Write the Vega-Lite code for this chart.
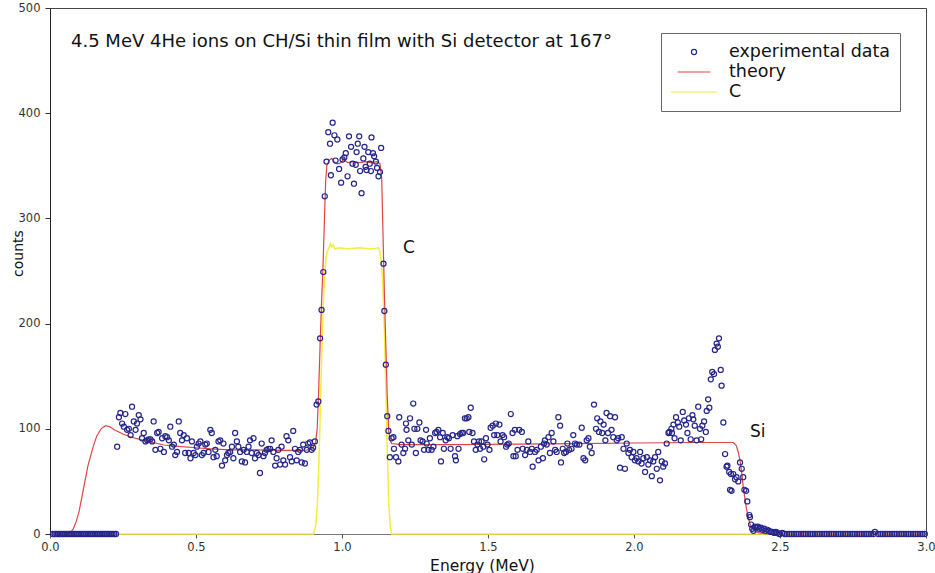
{
  "$schema": "https://vega.github.io/schema/vega-lite/v6.json",
  "width": 876,
  "height": 526,
  "autosize": {"type": "none"},
  "padding": {"left": 50, "top": 8, "right": 9, "bottom": 39},
  "background": "white",
  "title": {
    "text": "4.5 MeV 4He ions on CH/Si thin film with Si detector at 167°",
    "anchor": "start",
    "frame": "group",
    "orient": "top",
    "offset": 0,
    "dx": 21,
    "dy": 63,
    "baseline": "alphabetic",
    "font": "DejaVu Sans",
    "fontSize": 18,
    "fontWeight": "normal",
    "color": "#111"
  },
  "config": {
    "view": {"stroke": "#444", "strokeWidth": 1},
    "font": "DejaVu Sans"
  },
  "datasets": {
    "pts": [
      {"e":0.01,"c":0},{"e":0.016,"c":0},{"e":0.022,"c":0},{"e":0.028,"c":0},{"e":0.034,"c":0},{"e":0.04,"c":0},{"e":0.046,"c":0},{"e":0.052,"c":0},{"e":0.058,"c":0},{"e":0.064,"c":0},{"e":0.07,"c":0},{"e":0.076,"c":0},{"e":0.082,"c":0},{"e":0.088,"c":0},{"e":0.094,"c":0},{"e":0.1,"c":0},{"e":0.106,"c":0},{"e":0.112,"c":0},{"e":0.118,"c":0},{"e":0.124,"c":0},{"e":0.13,"c":0},{"e":0.136,"c":0},{"e":0.142,"c":0},{"e":0.148,"c":0},{"e":0.154,"c":0},{"e":0.16,"c":0},{"e":0.166,"c":0},{"e":0.172,"c":0},{"e":0.178,"c":0},{"e":0.184,"c":0},{"e":0.19,"c":0},{"e":0.196,"c":0},{"e":0.202,"c":0},{"e":0.208,"c":0},{"e":0.214,"c":0},{"e":0.22,"c":0},{"e":0.226,"c":0},
      {"e":0.230,"c":83},{"e":0.236,"c":111},{"e":0.241,"c":115},{"e":0.247,"c":105},{"e":0.253,"c":102},{"e":0.258,"c":114},{"e":0.264,"c":99},{"e":0.270,"c":100},{"e":0.276,"c":94},{"e":0.281,"c":121},{"e":0.287,"c":107},{"e":0.293,"c":99},{"e":0.298,"c":105},{"e":0.304,"c":113},{"e":0.310,"c":109},{"e":0.315,"c":91},{"e":0.321,"c":96},{"e":0.327,"c":88},{"e":0.333,"c":89},{"e":0.338,"c":90},{"e":0.344,"c":90},{"e":0.350,"c":88},{"e":0.355,"c":107},{"e":0.361,"c":80},{"e":0.367,"c":96},{"e":0.372,"c":97},{"e":0.378,"c":81},{"e":0.384,"c":91},{"e":0.390,"c":78},{"e":0.395,"c":93},{"e":0.401,"c":92},{"e":0.407,"c":89},{"e":0.412,"c":102},{"e":0.418,"c":83},{"e":0.424,"c":85},{"e":0.429,"c":75},{"e":0.435,"c":78},{"e":0.441,"c":107},{"e":0.446,"c":96},{"e":0.452,"c":89},{"e":0.458,"c":94},{"e":0.463,"c":77},{"e":0.469,"c":91},{"e":0.475,"c":77},{"e":0.481,"c":72},{"e":0.486,"c":88},{"e":0.492,"c":77},{"e":0.498,"c":75},{"e":0.503,"c":83},{"e":0.509,"c":86},{"e":0.515,"c":88},{"e":0.520,"c":75},{"e":0.526,"c":77},{"e":0.532,"c":85},{"e":0.537,"c":86},{"e":0.543,"c":78},{"e":0.549,"c":99},{"e":0.554,"c":96},{"e":0.560,"c":73},{"e":0.566,"c":80},{"e":0.571,"c":74},{"e":0.577,"c":88},{"e":0.583,"c":89},{"e":0.589,"c":65},{"e":0.594,"c":86},{"e":0.600,"c":70},{"e":0.606,"c":75},{"e":0.611,"c":77},{"e":0.617,"c":78},{"e":0.623,"c":83},{"e":0.628,"c":72},{"e":0.634,"c":96},{"e":0.640,"c":88},{"e":0.645,"c":83},{"e":0.651,"c":78},{"e":0.657,"c":69},{"e":0.663,"c":80},{"e":0.668,"c":68},{"e":0.674,"c":78},{"e":0.680,"c":83},{"e":0.685,"c":89},{"e":0.691,"c":77},{"e":0.697,"c":91},{"e":0.702,"c":72},{"e":0.708,"c":77},{"e":0.714,"c":75},{"e":0.719,"c":58},{"e":0.725,"c":86},{"e":0.731,"c":74},{"e":0.736,"c":77},{"e":0.742,"c":80},{"e":0.748,"c":81},{"e":0.754,"c":81},{"e":0.759,"c":89},{"e":0.765,"c":78},{"e":0.771,"c":65},{"e":0.776,"c":72},{"e":0.782,"c":80},{"e":0.788,"c":66},{"e":0.793,"c":83},{"e":0.799,"c":70},{"e":0.805,"c":66},{"e":0.810,"c":93},{"e":0.816,"c":89},{"e":0.822,"c":73},{"e":0.828,"c":69},{"e":0.833,"c":98},{"e":0.839,"c":81},{"e":0.845,"c":70},{"e":0.850,"c":78},{"e":0.856,"c":80},{"e":0.862,"c":68},{"e":0.867,"c":85},{"e":0.873,"c":67},{"e":0.879,"c":80},{"e":0.884,"c":86},{"e":0.890,"c":87},{"e":0.896,"c":80},{"e":0.901,"c":82},{"e":0.907,"c":88},
      {"e":0.913,"c":123},{"e":0.919,"c":126},{"e":0.925,"c":186},{"e":0.930,"c":213},{"e":0.936,"c":249},{"e":0.941,"c":321},
      {"e":0.947,"c":354},{"e":0.953,"c":382},{"e":0.959,"c":371},{"e":0.962,"c":341},{"e":0.968,"c":391},{"e":0.974,"c":379},{"e":0.978,"c":355},{"e":0.984,"c":375},{"e":0.990,"c":347},{"e":0.997,"c":334},{"e":1.002,"c":356},{"e":1.008,"c":358},{"e":1.013,"c":362},{"e":1.019,"c":340},{"e":1.024,"c":378},{"e":1.031,"c":368},{"e":1.036,"c":352},{"e":1.041,"c":333},{"e":1.047,"c":351},{"e":1.050,"c":363},{"e":1.054,"c":371},{"e":1.059,"c":378},{"e":1.062,"c":345},{"e":1.067,"c":324},{"e":1.073,"c":357},{"e":1.077,"c":368},{"e":1.081,"c":349},{"e":1.084,"c":346},{"e":1.090,"c":363},{"e":1.095,"c":352},{"e":1.099,"c":345},{"e":1.101,"c":377},{"e":1.106,"c":362},{"e":1.110,"c":359},{"e":1.116,"c":354},{"e":1.120,"c":348},{"e":1.125,"c":340},{"e":1.130,"c":344},{"e":1.134,"c":367},
      {"e":1.142,"c":257},{"e":1.145,"c":212},{"e":1.150,"c":161},{"e":1.155,"c":112},{"e":1.159,"c":98},
      {"e":1.164,"c":73},{"e":1.170,"c":91},{"e":1.176,"c":92},{"e":1.178,"c":81},{"e":1.185,"c":73},{"e":1.193,"c":69},{"e":1.196,"c":111},{"e":1.204,"c":85},{"e":1.210,"c":77},{"e":1.216,"c":81},{"e":1.219,"c":105},{"e":1.221,"c":99},{"e":1.227,"c":89},{"e":1.233,"c":110},{"e":1.239,"c":85},{"e":1.244,"c":124},{"e":1.248,"c":100},{"e":1.253,"c":77},{"e":1.258,"c":100},{"e":1.265,"c":106},{"e":1.269,"c":89},{"e":1.276,"c":88},{"e":1.281,"c":80},{"e":1.288,"c":99},{"e":1.290,"c":86},{"e":1.296,"c":80},{"e":1.301,"c":91},{"e":1.307,"c":80},{"e":1.313,"c":83},{"e":1.319,"c":96},{"e":1.324,"c":97},{"e":1.330,"c":99},{"e":1.336,"c":92},{"e":1.339,"c":69},{"e":1.345,"c":96},{"e":1.349,"c":81},{"e":1.355,"c":89},{"e":1.361,"c":92},{"e":1.366,"c":91},{"e":1.372,"c":81},{"e":1.379,"c":94},{"e":1.387,"c":74},{"e":1.390,"c":70},{"e":1.395,"c":93},{"e":1.399,"c":81},{"e":1.404,"c":95},{"e":1.410,"c":96},{"e":1.415,"c":96},{"e":1.421,"c":110},{"e":1.427,"c":110},{"e":1.433,"c":111},{"e":1.436,"c":97},{"e":1.441,"c":120},{"e":1.447,"c":96},{"e":1.452,"c":88},{"e":1.458,"c":80},{"e":1.464,"c":85},{"e":1.469,"c":88},{"e":1.473,"c":81},{"e":1.478,"c":88},{"e":1.484,"c":83},{"e":1.487,"c":71},{"e":1.493,"c":91},{"e":1.498,"c":85},{"e":1.505,"c":80},{"e":1.509,"c":101},{"e":1.516,"c":103},{"e":1.521,"c":94},{"e":1.527,"c":105},{"e":1.532,"c":94},{"e":1.539,"c":104},{"e":1.543,"c":88},{"e":1.550,"c":94},{"e":1.555,"c":92},{"e":1.562,"c":83},{"e":1.566,"c":85},{"e":1.571,"c":86},{"e":1.578,"c":114},{"e":1.584,"c":96},{"e":1.587,"c":74},{"e":1.592,"c":99},{"e":1.595,"c":74},{"e":1.601,"c":80},{"e":1.607,"c":99},
      {"e":1.616,"c":97},{"e":1.619,"c":81},{"e":1.627,"c":75},{"e":1.633,"c":80},{"e":1.638,"c":88},{"e":1.644,"c":78},{"e":1.650,"c":81},{"e":1.653,"c":64},{"e":1.661,"c":78},{"e":1.667,"c":80},{"e":1.673,"c":70},{"e":1.681,"c":83},{"e":1.688,"c":72},{"e":1.692,"c":86},{"e":1.695,"c":89},{"e":1.701,"c":85},{"e":1.707,"c":92},{"e":1.712,"c":77},{"e":1.718,"c":96},{"e":1.724,"c":88},{"e":1.730,"c":80},{"e":1.735,"c":78},{"e":1.741,"c":111},{"e":1.747,"c":103},{"e":1.750,"c":68},{"e":1.756,"c":81},{"e":1.761,"c":77},{"e":1.767,"c":78},{"e":1.772,"c":86},{"e":1.778,"c":80},{"e":1.786,"c":81},{"e":1.792,"c":94},{"e":1.798,"c":86},{"e":1.804,"c":85},{"e":1.813,"c":85},{"e":1.821,"c":101},{"e":1.827,"c":72},{"e":1.833,"c":70},{"e":1.838,"c":89},{"e":1.844,"c":91},{"e":1.849,"c":83},{"e":1.855,"c":77},{"e":1.863,"c":123},{"e":1.870,"c":100},{"e":1.874,"c":110},{"e":1.880,"c":97},{"e":1.885,"c":107},{"e":1.891,"c":96},{"e":1.896,"c":104},{"e":1.902,"c":89},{"e":1.906,"c":115},{"e":1.911,"c":96},{"e":1.918,"c":112},{"e":1.923,"c":99},{"e":1.929,"c":92},{"e":1.935,"c":111},{"e":1.941,"c":89},{"e":1.946,"c":91},{"e":1.952,"c":63},{"e":1.958,"c":92},{"e":1.964,"c":81},{"e":1.969,"c":62},{"e":1.975,"c":86},{"e":1.981,"c":77},{"e":1.986,"c":80},{"e":1.992,"c":73},{"e":1.998,"c":78},{"e":2.003,"c":70},{"e":2.009,"c":72},{"e":2.015,"c":69},{"e":2.021,"c":78},{"e":2.026,"c":67},{"e":2.032,"c":72},{"e":2.038,"c":59},{"e":2.044,"c":73},{"e":2.049,"c":66},{"e":2.055,"c":70},{"e":2.061,"c":55},{"e":2.066,"c":69},{"e":2.072,"c":73},{"e":2.078,"c":62},{"e":2.083,"c":78},{"e":2.089,"c":51},{"e":2.095,"c":69},{"e":2.100,"c":64},{"e":2.106,"c":67},{"e":2.112,"c":86},{"e":2.118,"c":96},
      {"e":2.121,"c":97},{"e":2.128,"c":100},{"e":2.130,"c":96},{"e":2.135,"c":104},{"e":2.139,"c":91},{"e":2.144,"c":111},{"e":2.150,"c":106},{"e":2.155,"c":102},{"e":2.160,"c":89},{"e":2.167,"c":116},{"e":2.172,"c":108},{"e":2.178,"c":104},{"e":2.183,"c":96},{"e":2.188,"c":110},{"e":2.194,"c":90},{"e":2.200,"c":113},{"e":2.203,"c":109},{"e":2.208,"c":103},{"e":2.214,"c":89},{"e":2.220,"c":121},{"e":2.226,"c":100},{"e":2.230,"c":90},{"e":2.234,"c":103},{"e":2.240,"c":107},{"e":2.246,"c":97},{"e":2.249,"c":117},{"e":2.254,"c":128},{"e":2.258,"c":120},{"e":2.263,"c":147},{"e":2.268,"c":154},{"e":2.274,"c":152},{"e":2.277,"c":175},{"e":2.283,"c":181},{"e":2.287,"c":178},{"e":2.291,"c":186},{"e":2.297,"c":156},{"e":2.300,"c":141},{"e":2.306,"c":106},{"e":2.312,"c":76},{"e":2.317,"c":64},{"e":2.320,"c":65},{"e":2.326,"c":59},{"e":2.329,"c":42},{"e":2.332,"c":57},{"e":2.334,"c":41},{"e":2.340,"c":57},{"e":2.346,"c":52},{"e":2.351,"c":54},{"e":2.357,"c":50},{"e":2.363,"c":68},{"e":2.369,"c":62},{"e":2.374,"c":54},{"e":2.378,"c":42},{"e":2.384,"c":41},{"e":2.388,"c":31},{"e":2.395,"c":18},{"e":2.397,"c":16},{"e":2.401,"c":9},{"e":2.405,"c":5},{"e":2.409,"c":3},{"e":2.414,"c":7},{"e":2.419,"c":6},{"e":2.424,"c":7},{"e":2.429,"c":5},{"e":2.435,"c":6},{"e":2.440,"c":4},{"e":2.446,"c":5},{"e":2.451,"c":3},{"e":2.457,"c":4},{"e":2.463,"c":3},{"e":2.468,"c":2},{"e":2.474,"c":2},{"e":2.480,"c":1},{"e":2.486,"c":2},{"e":2.491,"c":1},{"e":2.497,"c":0},
      {"e":2.5,"c":0},{"e":2.508,"c":1},{"e":2.516,"c":0},{"e":2.524,"c":0},{"e":2.532,"c":0},{"e":2.54,"c":0},{"e":2.548,"c":0},{"e":2.556,"c":0},{"e":2.564,"c":0},{"e":2.572,"c":0},{"e":2.58,"c":0},{"e":2.588,"c":0},{"e":2.596,"c":0},{"e":2.604,"c":0},{"e":2.612,"c":0},{"e":2.62,"c":0},{"e":2.628,"c":0},{"e":2.636,"c":0},{"e":2.644,"c":0},{"e":2.652,"c":0},{"e":2.66,"c":0},{"e":2.668,"c":0},{"e":2.676,"c":0},{"e":2.684,"c":0},{"e":2.692,"c":0},{"e":2.7,"c":0},{"e":2.708,"c":0},{"e":2.716,"c":0},{"e":2.724,"c":0},{"e":2.732,"c":0},{"e":2.74,"c":0},{"e":2.748,"c":0},{"e":2.756,"c":0},{"e":2.764,"c":0},{"e":2.772,"c":0},{"e":2.78,"c":0},{"e":2.788,"c":0},{"e":2.796,"c":0},{"e":2.804,"c":0},{"e":2.812,"c":0},{"e":2.82,"c":0},{"e":2.825,"c":2},{"e":2.836,"c":0},{"e":2.844,"c":0},{"e":2.852,"c":0},{"e":2.86,"c":0},{"e":2.868,"c":0},{"e":2.876,"c":0},{"e":2.884,"c":0},{"e":2.892,"c":0},{"e":2.9,"c":0},{"e":2.908,"c":0},{"e":2.916,"c":0},{"e":2.924,"c":0},{"e":2.932,"c":0},{"e":2.94,"c":0},{"e":2.948,"c":0},{"e":2.956,"c":0},{"e":2.964,"c":0},{"e":2.972,"c":0},{"e":2.98,"c":0},{"e":2.988,"c":0},{"e":2.996,"c":0}
    ],
    "theory": [
      {"e":0,"c":0},{"e":0.06,"c":0},{"e":0.068,"c":0.5},{"e":0.08,"c":5},{"e":0.09,"c":12},{"e":0.1,"c":22},{"e":0.114,"c":42},{"e":0.13,"c":65},{"e":0.148,"c":83},{"e":0.16,"c":93},{"e":0.175,"c":100},{"e":0.19,"c":103},{"e":0.205,"c":102},{"e":0.22,"c":99},{"e":0.25,"c":95},{"e":0.28,"c":92},{"e":0.32,"c":89},{"e":0.36,"c":86.5},{"e":0.39,"c":84.6},{"e":0.45,"c":83},{"e":0.5,"c":82},{"e":0.55,"c":81},{"e":0.616,"c":80},{"e":0.7,"c":80},{"e":0.8,"c":79.5},{"e":0.87,"c":79.5},{"e":0.895,"c":80.5},{"e":0.905,"c":84},{"e":0.91,"c":88},{"e":0.915,"c":100},{"e":0.92,"c":135},{"e":0.925,"c":180},{"e":0.93,"c":220},{"e":0.935,"c":255},{"e":0.94,"c":300},{"e":0.944,"c":335},{"e":0.948,"c":350},{"e":0.955,"c":355},{"e":0.965,"c":357},{"e":0.97,"c":355},{"e":0.98,"c":352},{"e":0.99,"c":352},{"e":1.0,"c":354},{"e":1.005,"c":357},{"e":1.01,"c":355},{"e":1.02,"c":353},{"e":1.04,"c":354},{"e":1.06,"c":353},{"e":1.08,"c":354},{"e":1.1,"c":353},{"e":1.12,"c":354},{"e":1.13,"c":352},{"e":1.136,"c":338},{"e":1.14,"c":290},{"e":1.145,"c":230},{"e":1.15,"c":180},{"e":1.155,"c":130},{"e":1.16,"c":98},{"e":1.165,"c":89},{"e":1.17,"c":86},{"e":1.2,"c":85},{"e":1.4,"c":85},{"e":1.6,"c":85.5},{"e":1.8,"c":86},{"e":2.0,"c":86.5},{"e":2.2,"c":87},{"e":2.34,"c":87},{"e":2.35,"c":84},{"e":2.357,"c":78},{"e":2.363,"c":70},{"e":2.37,"c":56},{"e":2.374,"c":45},{"e":2.38,"c":33},{"e":2.386,"c":23},{"e":2.392,"c":15},{"e":2.397,"c":10},{"e":2.405,"c":5},{"e":2.415,"c":2.5},{"e":2.43,"c":1},{"e":2.46,"c":0},{"e":3.0,"c":0}
    ],
    "carbon": [
      {"e":0,"c":0},{"e":0.902,"c":0},{"e":0.91,"c":8},{"e":0.915,"c":25},{"e":0.92,"c":60},{"e":0.925,"c":110},{"e":0.93,"c":165},{"e":0.935,"c":210},{"e":0.94,"c":245},{"e":0.945,"c":262},{"e":0.95,"c":269},{"e":0.955,"c":272},{"e":0.96,"c":276},{"e":0.965,"c":273},{"e":0.97,"c":275},{"e":0.975,"c":271},{"e":0.99,"c":272},{"e":1.02,"c":271},{"e":1.06,"c":272},{"e":1.1,"c":271},{"e":1.125,"c":272},{"e":1.13,"c":268},{"e":1.135,"c":258},{"e":1.14,"c":235},{"e":1.145,"c":195},{"e":1.15,"c":140},{"e":1.155,"c":80},{"e":1.16,"c":30},{"e":1.165,"c":8},{"e":1.17,"c":0},{"e":3.0,"c":0}
    ],
    "labels": [
      {"e":1.209,"c":272,"t":"C"},
      {"e":2.397,"c":97,"t":"Si"}
    ]
  },
  "layer": [
    {
      "data": {"name": "carbon"},
      "mark": {"type": "line", "color": "#f4ee3c", "strokeWidth": 1.5},
      "encoding": {
        "x": {
          "field": "e", "type": "quantitative",
          "scale": {"domain": [0, 3], "nice": false},
          "axis": {
            "values": [0, 0.5, 1, 1.5, 2, 2.5, 3],
            "format": ".1f",
            "title": "Energy (MeV)",
            "grid": false,
            "domainColor": "#777",
            "tickColor": "#555",
            "tickSize": 4,
            "labelFont": "DejaVu Sans",
            "labelFontSize": 11.5,
            "labelColor": "#333",
            "labelPadding": 3,
            "labelFlush": false,
            "labelOverlap": false,
            "titleFont": "DejaVu Sans",
            "titleFontSize": 15.5,
            "titleFontWeight": "normal",
            "titleColor": "#111",
            "titleX": 432,
            "titleY": 31,
            "titleAlign": "center",
            "titleBaseline": "middle"
          }
        },
        "y": {
          "field": "c", "type": "quantitative",
          "scale": {"domain": [0, 500], "nice": false},
          "axis": {
            "values": [0, 100, 200, 300, 400, 500],
            "title": "counts",
            "grid": false,
            "domainColor": "#222",
            "tickColor": "#333",
            "tickSize": 5,
            "labelFont": "DejaVu Sans",
            "labelFontSize": 11.5,
            "labelColor": "#333",
            "labelPadding": 5,
            "labelFlush": false,
            "titleFont": "DejaVu Sans",
            "titleFontSize": 14,
            "titleFontWeight": "normal",
            "titleColor": "#111",
            "titleAngle": -90,
            "titleX": -32,
            "titleY": 245,
            "titleAlign": "center",
            "titleBaseline": "middle"
          }
        }
      }
    },
    {
      "data": {"name": "theory"},
      "mark": {"type": "line", "color": "#e04444", "strokeWidth": 1.2},
      "encoding": {
        "x": {"field": "e", "type": "quantitative", "scale": {"domain": [0, 3], "nice": false}},
        "y": {"field": "c", "type": "quantitative", "scale": {"domain": [0, 500], "nice": false}}
      }
    },
    {
      "data": {"name": "pts"},
      "mark": {"type": "point", "filled": false, "strokeWidth": 1.2, "opacity": 1},
      "encoding": {
        "x": {"field": "e", "type": "quantitative", "scale": {"domain": [0, 3], "nice": false}},
        "y": {"field": "c", "type": "quantitative", "scale": {"domain": [0, 500], "nice": false}},
        "color": {
          "datum": "experimental data", "type": "nominal",
          "scale": {"domain": ["experimental data", "theory", "C"], "range": ["#25258c", "#e04444", "#f4ee3c"]},
          "legend": {
            "title": null,
            "orient": "none",
            "legendX": 611,
            "legendY": 25,
            "padding": 9,
            "clipHeight": 20,
            "rowPadding": 0,
            "labelFont": "DejaVu Sans",
            "labelFontSize": 17.5,
            "labelColor": "#111",
            "labelOffset": 11,
            "labelLimit": 300,
            "symbolStrokeWidth": 1.2,
            "strokeColor": "#666",
            "fillColor": "white"
          }
        },
        "shape": {
          "datum": "experimental data", "type": "nominal",
          "scale": {"domain": ["experimental data", "theory", "C"], "range": ["circle", "stroke", "stroke"]}
        },
        "size": {
          "datum": "experimental data", "type": "nominal",
          "scale": {"domain": ["experimental data", "theory", "C"], "range": [26, 2116, 2116]}
        }
      }
    },
    {
      "data": {"name": "labels"},
      "mark": {"type": "text", "align": "left", "baseline": "middle", "font": "DejaVu Sans", "fontSize": 17, "color": "#111"},
      "encoding": {
        "x": {"field": "e", "type": "quantitative", "scale": {"domain": [0, 3], "nice": false}},
        "y": {"field": "c", "type": "quantitative", "scale": {"domain": [0, 500], "nice": false}},
        "text": {"field": "t"}
      }
    }
  ]
}
